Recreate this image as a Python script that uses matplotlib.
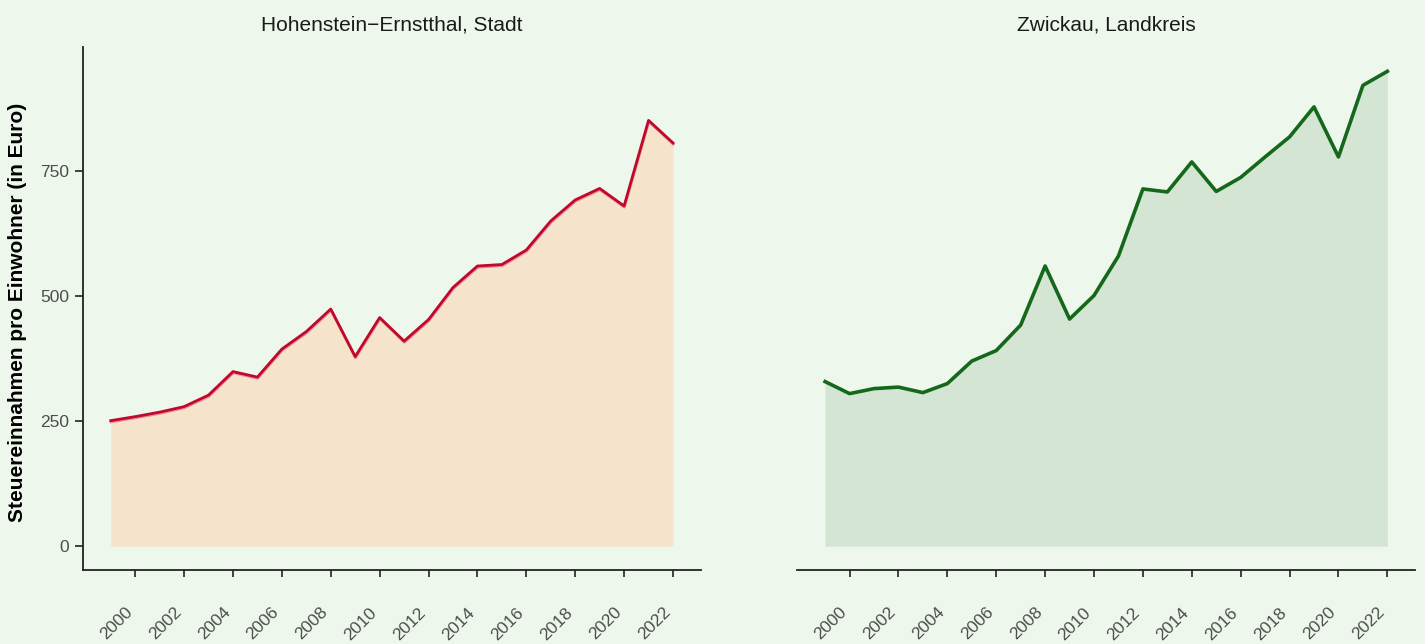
import matplotlib.pyplot as plt
import matplotlib.transforms as mtransforms

# Daten
jahre = list(range(1999, 2023))
hohenstein = [251, 259, 268, 279, 302, 349, 338, 394, 429, 474, 379, 457,
              410, 453, 517, 560, 563, 592, 650, 692, 715, 680, 851, 806]
zwickau = [329, 305, 315, 318, 307, 325, 370, 391, 442, 560, 454, 501,
           580, 714, 708, 768, 709, 737, 778, 818, 878, 778, 921, 949]
titel = ['Hohenstein\u2212Ernstthal, Stadt', 'Zwickau, Landkreis']
xticks = list(range(2000, 2023, 2))
yticks = [0, 250, 500, 750]

bg = '#EDF7EB'
plt.rcParams['font.family'] = ['Liberation Sans', 'DejaVu Sans']

fig = plt.figure(figsize=(14.25, 6.44), dpi=100, facecolor=bg)
ax1 = fig.add_axes([0.058, 0.1149, 0.434, 0.812])
ax2 = fig.add_axes([0.5593, 0.1149, 0.434, 0.812])

# linkes Panel
ax1.fill_between(jahre, 0, hohenstein, color='#F5E3CB', lw=0)
off = mtransforms.offset_copy(ax1.transData, fig=fig, x=0.3, y=-1.2, units='dots')
ax1.plot(jahre, hohenstein, color='#E58C98', lw=2.0, transform=off)
ax1.plot(jahre, hohenstein, color='#C0082C', lw=2.0)

# rechtes Panel
ax2.fill_between(jahre, 0, zwickau, color='#D4E6D3', lw=0)
ax2.plot(jahre, zwickau, color='#15681B', lw=2.6)

for ax, t in zip([ax1, ax2], titel):
    ax.set_facecolor(bg)
    ax.set_xlim(1997.85, 2023.15)
    ax.set_ylim(-47.5, 997.5)
    ax.set_xticks(xticks)
    ax.set_xticklabels([str(x) for x in xticks], rotation=45, ha='right', va='top')
    ax.set_yticks(yticks)
    ax.tick_params(axis='x', length=5, width=1.3, color='#333333',
                   labelsize=12.5, labelcolor='#4D4D4D', pad=20)
    ax.tick_params(axis='y', length=5.5, width=1.3, color='#333333',
                   labelsize=12.5, labelcolor='#4D4D4D', pad=4)
    for s in ['top', 'right']:
        ax.spines[s].set_visible(False)
    ax.spines['bottom'].set_linewidth(1.3)
    ax.spines['bottom'].set_color('#222222')
    ax.spines['left'].set_linewidth(1.3)
    ax.spines['left'].set_color('#222222')
    ax.set_title(t, fontsize=15, pad=12, color='#1A1A1A')

ax2.spines['left'].set_visible(False)
ax2.tick_params(axis='y', left=False, labelleft=False)

fig.text(17.5 / 1425, 1 - 312 / 644, 'Steuereinnahmen pro Einwohner (in Euro)',
         rotation=90, ha='center', va='center', fontsize=15, fontweight='bold')

fig.savefig('out.png', dpi=100, facecolor=bg)
